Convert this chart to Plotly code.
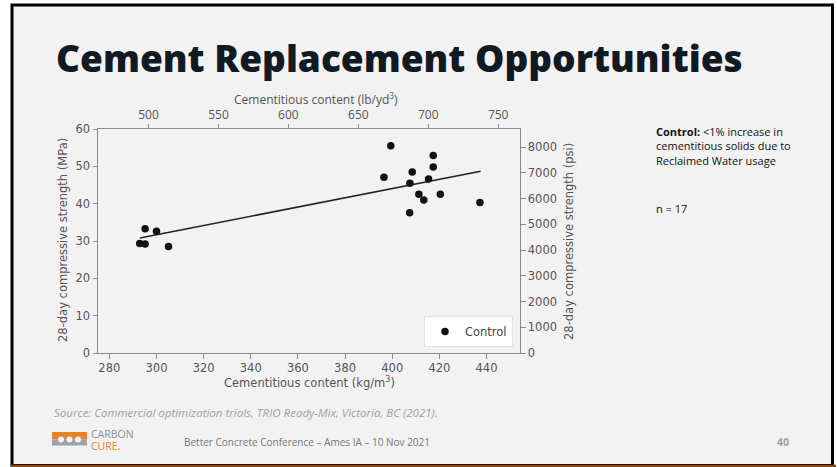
import plotly.graph_objects as go

# ---- data ----
cementitious_kg_m3 = [292.9, 295.2, 295.2, 300.0, 305.1, 396.5, 399.4, 407.5, 408.5,
                      407.4, 411.3, 413.4, 415.4, 417.4, 417.4, 420.4, 437.2]
strength_mpa = [29.3, 33.3, 29.2, 32.6, 28.5, 47.1, 55.5, 45.5, 48.5,
                37.6, 42.5, 41.0, 46.6, 52.9, 49.8, 42.5, 40.3]
trend_x = [293.0, 437.5]
trend_y = [30.8, 48.7]
x_ticks = [280, 300, 320, 340, 360, 380, 400, 420, 440]
y_ticks = [0, 10, 20, 30, 40, 50, 60]
top_ticks = [500, 550, 600, 650, 700, 750]
right_ticks = [0, 1000, 2000, 3000, 4000, 5000, 6000, 7000, 8000]
KG_TO_LB = 1.6856
MPA_TO_PSI = 145.038
x_range = [275.2, 454.2]
y_range = [0, 60]

# ---- layout geometry ----
W, H = 837, 467
L, R, T, B = 98, 520, 129, 353


def fx(p):
    return (p - L) / (R - L)


def fy(p):
    return (B - p) / (B - T)


AX = "DejaVu Sans"
GRAY = "#555555"
NARROW = "Liberation Sans Narrow, Open Sans, sans-serif"

fig = go.Figure()
fig.add_trace(go.Scatter(x=trend_x, y=trend_y, mode="lines",
                         line=dict(color="#222222", width=1.6),
                         showlegend=False, hoverinfo="skip"))
fig.add_trace(go.Scatter(x=cementitious_kg_m3, y=strength_mpa, mode="markers",
                         name="Control",
                         marker=dict(color="#111111", size=7.5)))
# invisible traces to activate secondary axes
fig.add_trace(go.Scatter(x=[x_range[0] * KG_TO_LB], y=[None], xaxis="x2", yaxis="y",
                         showlegend=False, hoverinfo="skip", mode="markers"))
fig.add_trace(go.Scatter(x=[None], y=[0], xaxis="x", yaxis="y2",
                         showlegend=False, hoverinfo="skip", mode="markers"))

axis_common = dict(showgrid=False, zeroline=False, showline=True, linecolor="#8a8a8a",
                   linewidth=1, ticks="outside", ticklen=4.5, tickcolor="#8a8a8a",
                   tickfont=dict(family=AX, size=11.5, color=GRAY))

fig.update_layout(
    width=W, height=H, autosize=False,
    margin=dict(l=L, r=W - R, t=T, b=H - B, pad=0),
    paper_bgcolor="white", plot_bgcolor="#f2f2f2",
    xaxis=dict(range=x_range, tickvals=x_ticks, **axis_common),
    yaxis=dict(range=y_range, tickvals=y_ticks, **axis_common),
    xaxis2=dict(range=[x_range[0] * KG_TO_LB, x_range[1] * KG_TO_LB], tickvals=top_ticks,
                overlaying="x", side="top", anchor="y",
                **{**axis_common, "tickfont": dict(family=NARROW, size=12, color=GRAY)}),
    yaxis2=dict(range=[y_range[0] * MPA_TO_PSI, y_range[1] * MPA_TO_PSI], tickvals=right_ticks,
                overlaying="y", side="right", anchor="x", **axis_common),
    legend=dict(x=fx(513), y=fy(347), xanchor="right", yanchor="bottom",
                bgcolor="white", bordercolor="#e2e2e2", borderwidth=1,
                font=dict(family=AX, size=11.5, color="#444444"),
                tracegroupgap=0),
    showlegend=True,
)

shapes = [
    # slide
    dict(type="rect", xref="paper", yref="paper", x0=fx(12), x1=fx(832.5), y0=fy(465.5), y1=fy(5),
         fillcolor="#f2f2f2", line=dict(color="black", width=3), layer="below"),
    dict(type="line", xref="paper", yref="paper", x0=fx(11), x1=fx(836), y0=fy(466), y1=fy(466),
         line=dict(color="#8a4a12", width=2.5)),
    # logo
    dict(type="rect", xref="paper", yref="paper", x0=fx(52), x1=fx(87), y0=fy(439.5), y1=fy(432),
         fillcolor="#e8832c", line=dict(width=0)),
    dict(type="rect", xref="paper", yref="paper", x0=fx(52), x1=fx(87), y0=fy(445.5), y1=fy(439.5),
         fillcolor="#9ea3a8", line=dict(width=0)),
]
for cx in (61, 69.5, 78):
    shapes.append(dict(type="circle", xref="paper", yref="paper", x0=fx(cx - 3), x1=fx(cx + 3),
                       y0=fy(442.5), y1=fy(436.5), fillcolor="#f4f4f4", line=dict(width=0)))
fig.update_layout(shapes=shapes)

ann = []


def A(text, x, y, size, color, family, xanchor="left", yanchor="middle", angle=0, **kw):
    ann.append(dict(text=text, x=fx(x), y=fy(y), xref="paper", yref="paper",
                    xanchor=xanchor, yanchor=yanchor, showarrow=False, textangle=angle,
                    font=dict(size=size, color=color, family=family, **kw)))


A("Cement Replacement Opportunities", 54, 57, 37, "#111a22", "Open Sans", weight=800)
A("Cementitious content (kg/m<sup>3</sup>)", 309, 382, 11.5, GRAY, AX, xanchor="center")
A("Cementitious content (lb/yd<sup>3</sup>)", 316, 99, 12, GRAY, NARROW, xanchor="center")
A("28-day compressive strength (MPa)", 63, 240, 11.5, GRAY, AX, xanchor="center", angle=-90)
A("28-day compressive strength (psi)", 569, 242, 11.5, GRAY, AX, xanchor="center", angle=-90)
A("<b>Control:</b> <1% increase in", 654, 131, 11, "#111111", "Open Sans")
A("cementitious solids due to", 654, 145.5, 11, "#111111", "Open Sans")
A("Reclaimed Water usage", 654, 160, 11, "#111111", "Open Sans")
A("n = 17", 654, 208, 11, "#111111", "Open Sans")
A("<i>Source: Commercial optimization trials, TRIO Ready-Mix, Victoria, BC (2021).</i>",
  52, 412, 11.5, "#a0a0a0", NARROW)
A("Better Concrete Conference – Ames IA – 10 Nov 2021", 182, 442, 10, "#777777", NARROW)
A("<b>40</b>", 775, 441.5, 10.5, "#a0a0a0", "Open Sans")
A("CARBON", 89, 433.5, 10.5, "#8c9299", "Open Sans")
A("CURE.", 89, 446, 10.5, "#e8832c", "Open Sans")
fig.update_layout(annotations=ann)

fig.write_html("out.html", config={"displayModeBar": False},
               post_script="document.body.style.margin='0';document.body.style.overflow='hidden';")
